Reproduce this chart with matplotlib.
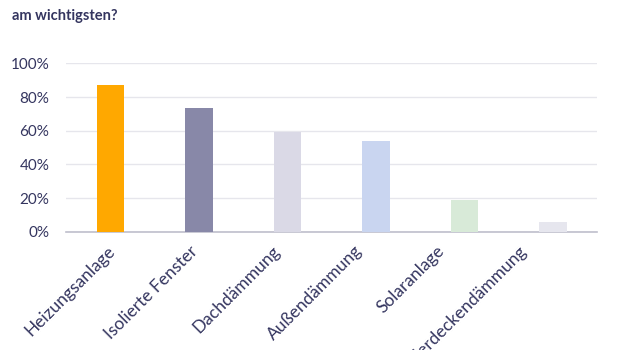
import numpy as np
import matplotlib
matplotlib.use('Agg')
import matplotlib.pyplot as plt
from matplotlib.ticker import PercentFormatter
from matplotlib.transforms import ScaledTranslation

categories = ['Heizungsanlage', 'Isolierte Fenster', 'Dachdämmung',
              'Außendämmung', 'Solaranlage', 'Kellerdeckendämmung']
values = [0.871, 0.733, 0.594, 0.539, 0.188, 0.056]
colors = ['#FFA800', '#8888A8', '#DAD9E6', '#C9D5F0', '#D8EAD8', '#E6E6EE']
yticks = [0, 0.2, 0.4, 0.6, 0.8, 1.0]

navy = '#34355F'
plt.rcParams['font.family'] = ['Lato', 'DejaVu Sans']


def main():
    fig = plt.figure(figsize=(6.2, 3.5), dpi=100)
    ax = fig.add_axes([0.1065, 0.338, 0.8565, 0.481])

    x = np.arange(len(categories))
    ax.bar(x, values, width=0.31, color=colors, zorder=3)

    ax.set_xlim(-0.5, len(categories) - 0.5)
    ax.set_ylim(0, 1.0)
    ax.set_yticks(yticks)
    ax.yaxis.set_major_formatter(PercentFormatter(1.0, decimals=0))
    ax.grid(axis='y', color='#E6E6EC', linewidth=1, zorder=0)

    for s in ['top', 'right', 'left']:
        ax.spines[s].set_visible(False)
    ax.spines['bottom'].set_color('#BFBFCC')
    ax.spines['bottom'].set_linewidth(1.2)

    ax.tick_params(axis='y', length=0, pad=12, labelsize=11, labelcolor=navy)
    ax.tick_params(axis='x', length=0, pad=8, labelsize=12.5, labelcolor=navy)
    ax.set_xticks(x)
    ax.set_xticklabels(categories, rotation=45, ha='right',
                       rotation_mode='anchor')

    # die Beschriftungen sitzen im Original nach rechts hin immer weiter links
    for i, lbl in enumerate(ax.get_xticklabels()):
        dx = (-3 - 6.4 * i) / 100
        lbl.set_transform(lbl.get_transform()
                          + ScaledTranslation(dx, 0, fig.dpi_scale_trans))

    fig.text(0.019, 0.955, 'am wichtigsten?', fontsize=10.5,
             fontweight='bold', color=navy, va='center', ha='left')

    fig.savefig('out.png', dpi=100, facecolor='white')


if __name__ == '__main__':
    main()
